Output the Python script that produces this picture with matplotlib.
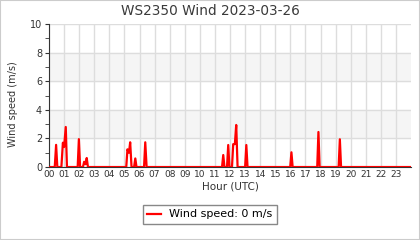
import matplotlib
matplotlib.use("Agg")
import matplotlib.pyplot as plt
from matplotlib.patches import Rectangle

# wind samples (hour UTC, m/s) - zeros mark where each gust starts/stops
hours = [0.00, 0.38, 0.47, 0.55, 0.82, 0.92, 1.00, 1.11, 1.19,
         1.90, 1.98, 2.06, 2.25, 2.33, 2.42, 2.50, 2.58,
         5.12, 5.20, 5.30, 5.38, 5.47, 5.64, 5.72, 5.80,
         6.30, 6.38, 6.47, 11.47, 11.55, 11.63, 11.80, 11.88, 11.96,
         12.13, 12.21, 12.32, 12.41, 12.50, 13.00, 13.08, 13.16,
         15.99, 16.07, 16.15, 17.78, 17.86, 17.94, 19.20, 19.28, 19.36, 24.00]
speed = [0.0, 0.0, 1.55, 0.0, 0.0, 1.7, 1.4, 2.8, 0.0,
         0.0, 1.95, 0.0, 0.0, 0.37, 0.2, 0.63, 0.0,
         0.0, 1.24, 1.0, 1.73, 0.0, 0.0, 0.6, 0.0,
         0.0, 1.73, 0.0, 0.0, 0.84, 0.0, 0.0, 1.54, 0.0,
         0.0, 1.6, 1.6, 2.94, 0.0, 0.0, 1.54, 0.0,
         0.0, 1.03, 0.0, 0.0, 2.45, 0.0, 0.0, 1.94, 0.0, 0.0]
hour_labels = ["%02d" % h for h in range(24)]
title = "WS2350 Wind 2023-03-26"

fig = plt.figure(figsize=(4.2, 2.4), dpi=100)
ax = fig.add_axes([0.1167, 0.304, 0.862, 0.596])

# alternating grey bands behind the grid
for lo in (2, 6):
    ax.axhspan(lo, lo + 2, color="#f5f5f5", zorder=0)

ax.plot(hours, speed, color="#ff0000", lw=1.6, label="Wind speed: %g m/s" % speed[-1], zorder=3)

ax.set_xlim(0, 24)
ax.set_ylim(0, 10)
ax.set_xticks(range(24))
ax.set_xticklabels(hour_labels)
ax.set_yticks(range(0, 11, 2))
ax.set_yticks(range(1, 10, 2), minor=True)
ax.grid(True, color="#dddddd", lw=1, zorder=1)
ax.set_axisbelow(True)

for s in ("top", "right"):
    ax.spines[s].set_visible(False)
ax.spines["left"].set_color("#333333")
ax.spines["bottom"].set_color("#333333")
ax.tick_params(axis="x", length=0, pad=2, labelsize=6.5, colors="#333333")
ax.tick_params(axis="y", which="both", length=3, labelsize=7, colors="#333333", pad=2)

fig.suptitle(title, x=0.5, y=0.985, va="top", fontsize=9.8, color="#3a3a3a")
ax.set_xlabel("Hour (UTC)", fontsize=7.5, color="#333333", labelpad=2)
ax.set_ylabel("Wind speed (m/s)", fontsize=7, color="#333333")
ax.yaxis.set_label_coords(-0.086, 0.44)

fig.legend(loc="upper center", bbox_to_anchor=(0.5, 0.169), fontsize=8,
           fancybox=False, edgecolor="#888888", framealpha=1, handlelength=1.2)

fig.patches.append(Rectangle((0, 0), 1, 1, transform=fig.transFigure, fill=False,
                             edgecolor="#cccccc", lw=1.5))

fig.savefig("out.png", dpi=100)
